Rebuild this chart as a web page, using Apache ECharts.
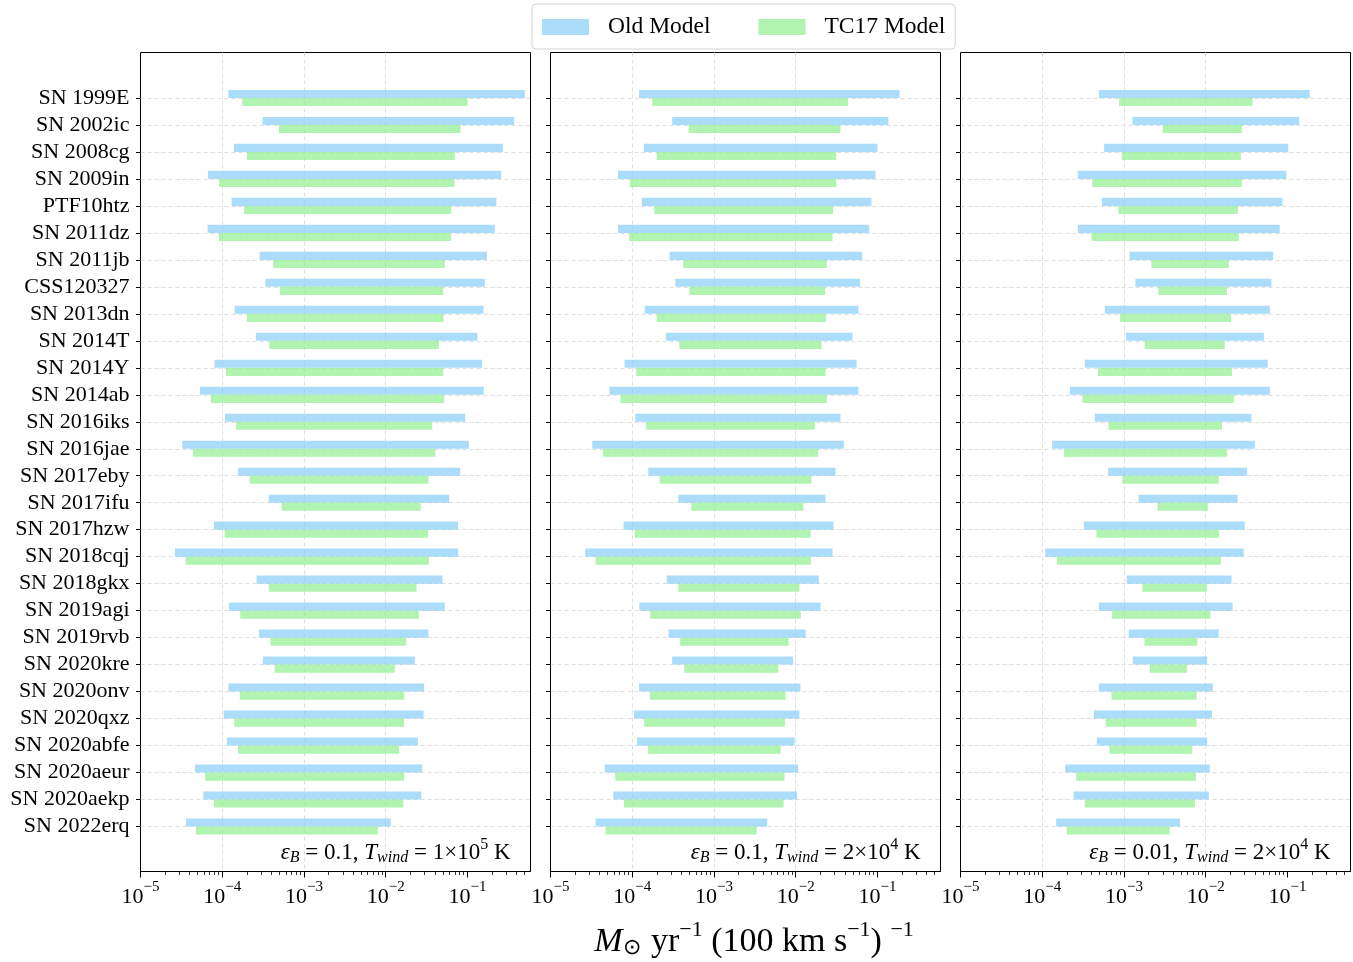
<!DOCTYPE html>
<html>
<head>
<meta charset="utf-8">
<script src="https://cdn.jsdelivr.net/npm/echarts@6/dist/echarts.min.js"></script>
<style>
html, body { margin: 0; padding: 0; background: #fff; }
#chart { width: 1353px; height: 962px; }
</style>
</head>
<body>
<div id="chart"></div>
<script>
// supernova names, top to bottom
var names = ['SN 1999E', 'SN 2002ic', 'SN 2008cg', 'SN 2009in', 'PTF10htz', 'SN 2011dz', 'SN 2011jb',
    'CSS120327', 'SN 2013dn', 'SN 2014T', 'SN 2014Y', 'SN 2014ab', 'SN 2016iks', 'SN 2016jae',
    'SN 2017eby', 'SN 2017ifu', 'SN 2017hzw', 'SN 2018cqj', 'SN 2018gkx', 'SN 2019agi', 'SN 2019rvb',
    'SN 2020kre', 'SN 2020onv', 'SN 2020qxz', 'SN 2020abfe', 'SN 2020aeur', 'SN 2020aekp', 'SN 2022erq'];

// panel 1 : eps_B = 0.1, T_wind = 1e5 K
var oldLo1 = [1.19e-4, 3.11e-4, 1.39e-4, 6.68e-5, 1.30e-4, 6.62e-5, 2.86e-4, 3.36e-4, 1.42e-4, 2.58e-4, 8.05e-5, 5.33e-5, 1.08e-4, 3.24e-5,
    1.56e-4, 3.72e-4, 7.91e-5, 2.64e-5, 2.63e-4, 1.21e-4, 2.81e-4, 3.14e-4, 1.19e-4, 1.04e-4, 1.14e-4, 4.63e-5, 5.86e-5, 3.60e-5];
var oldHi1 = [0.504, 0.372, 0.271, 0.258, 0.226, 0.216, 0.173, 0.163, 0.157, 0.132, 0.151, 0.158, 0.0938, 0.104,
    0.0815, 0.0597, 0.0769, 0.0769, 0.0495, 0.0528, 0.0333, 0.0227, 0.0295, 0.0290, 0.0247, 0.0279, 0.0272, 0.0115];
var tcLo1 = [1.76e-4, 4.93e-4, 2.00e-4, 9.18e-5, 1.86e-4, 9.10e-5, 4.21e-4, 5.07e-4, 2.00e-4, 3.76e-4, 1.11e-4, 7.26e-5, 1.48e-4, 4.38e-5,
    2.16e-4, 5.32e-4, 1.07e-4, 3.56e-5, 3.72e-4, 1.66e-4, 3.90e-4, 4.37e-4, 1.64e-4, 1.40e-4, 1.56e-4, 6.19e-5, 7.91e-5, 4.76e-5];
var tcHi1 = [0.100, 0.0822, 0.0700, 0.0693, 0.0632, 0.0627, 0.0528, 0.0505, 0.0509, 0.0447, 0.0505, 0.0519, 0.0370, 0.0406,
    0.0333, 0.0267, 0.0330, 0.0337, 0.0238, 0.0254, 0.0178, 0.0129, 0.0168, 0.0168, 0.0146, 0.0168, 0.0164, 8.02e-3];

// panel 2 : eps_B = 0.1, T_wind = 2e4 K
var oldLo2 = [1.21e-4, 3.08e-4, 1.39e-4, 6.68e-5, 1.31e-4, 6.68e-5, 2.86e-4, 3.36e-4, 1.42e-4, 2.58e-4, 8.05e-5, 5.28e-5, 1.09e-4, 3.24e-5,
    1.57e-4, 3.66e-4, 7.83e-5, 2.66e-5, 2.65e-4, 1.22e-4, 2.78e-4, 3.08e-4, 1.21e-4, 1.05e-4, 1.14e-4, 4.63e-5, 5.86e-5, 3.56e-5];
var oldHi2 = [0.186, 0.136, 0.100, 0.0946, 0.0845, 0.0791, 0.0650, 0.0614, 0.0586, 0.0495, 0.0555, 0.0586, 0.0353, 0.0388,
    0.0307, 0.0231, 0.0290, 0.0282, 0.0192, 0.0201, 0.0132, 9.31e-3, 0.0114, 0.0111, 9.66e-3, 0.0107, 0.0104, 4.48e-3];
var tcLo2 = [1.76e-4, 4.89e-4, 1.99e-4, 9.35e-5, 1.86e-4, 9.18e-5, 4.21e-4, 5.02e-4, 1.99e-4, 3.76e-4, 1.12e-4, 7.19e-5, 1.48e-4, 4.38e-5,
    2.16e-4, 5.27e-4, 1.07e-4, 3.56e-5, 3.66e-4, 1.66e-4, 3.86e-4, 4.33e-4, 1.64e-4, 1.40e-4, 1.56e-4, 6.19e-5, 7.91e-5, 4.72e-5];
var tcHi2 = [0.0435, 0.0353, 0.0313, 0.0313, 0.0287, 0.0282, 0.0240, 0.0229, 0.0234, 0.0207, 0.0231, 0.0240, 0.0171, 0.0188,
    0.0156, 0.0124, 0.0152, 0.0153, 0.0111, 0.0115, 8.17e-3, 6.11e-3, 7.50e-3, 7.36e-3, 6.52e-3, 7.29e-3, 7.10e-3, 3.32e-3];

// panel 3 : eps_B = 0.01, T_wind = 2e4 K
var oldLo3 = [4.92e-4, 1.27e-3, 5.71e-4, 2.72e-4, 5.36e-4, 2.72e-4, 1.17e-3, 1.38e-3, 5.82e-4, 1.06e-3, 3.32e-4, 2.18e-4, 4.40e-4, 1.32e-4,
    6.40e-4, 1.51e-3, 3.23e-4, 1.09e-4, 1.08e-3, 4.92e-4, 1.14e-3, 1.28e-3, 4.92e-4, 4.28e-4, 4.65e-4, 1.91e-4, 2.42e-4, 1.48e-4];
var oldHi3 = [0.187, 0.139, 0.102, 0.0970, 0.0869, 0.0805, 0.0668, 0.0637, 0.0608, 0.0514, 0.0574, 0.0608, 0.0363, 0.0399,
    0.0321, 0.0245, 0.0301, 0.0292, 0.0207, 0.0213, 0.0144, 0.0104, 0.0122, 0.0119, 0.0104, 0.0112, 0.0109, 4.84e-3];
var tcLo3 = [8.71e-4, 2.97e-3, 9.40e-4, 4.08e-4, 8.55e-4, 4.00e-4, 2.16e-3, 2.63e-3, 8.95e-4, 1.79e-3, 4.79e-4, 3.10e-4, 6.46e-4, 1.84e-4,
    9.57e-4, 2.58e-3, 4.60e-4, 1.51e-4, 1.68e-3, 7.16e-4, 1.78e-3, 2.07e-3, 7.03e-4, 5.98e-4, 6.64e-4, 2.60e-4, 3.32e-4, 2.00e-4];
var tcHi3 = [0.0373, 0.0277, 0.0269, 0.0277, 0.0247, 0.0254, 0.0192, 0.0182, 0.0203, 0.0171, 0.0209, 0.0221, 0.0158, 0.0182,
    0.0144, 0.0106, 0.0145, 0.0153, 0.0103, 0.0114, 7.89e-3, 5.89e-3, 7.73e-3, 7.73e-3, 6.85e-3, 7.59e-3, 7.38e-3, 3.62e-3];

var majorTicks = [1e-5, 1e-4, 1e-3, 1e-2, 1e-1];
var minorTicks = [];
for (var k = 0; k < 5; k++) {
    for (var m = 2; m <= 9; m++) {
        var v = m * majorTicks[k];
        if (v < 0.59) minorTicks.push(v);
    }
}

var panelText = [
    '{e|ε}{sub|B}{n| = 0.1, }{e|T}{sub|wind}{n| = 1×10}{sup|5}{n| K}',
    '{e|ε}{sub|B}{n| = 0.1, }{e|T}{sub|wind}{n| = 2×10}{sup|4}{n| K}',
    '{e|ε}{sub|B}{n| = 0.01, }{e|T}{sub|wind}{n| = 2×10}{sup|4}{n| K}'
];

var panels = [
    { oldLo: oldLo1, oldHi: oldHi1, tcLo: tcLo1, tcHi: tcHi1 },
    { oldLo: oldLo2, oldHi: oldHi2, tcLo: tcLo2, tcHi: tcHi2 },
    { oldLo: oldLo3, oldHi: oldHi3, tcLo: tcLo3, tcHi: tcHi3 }
];

var FONT = '"Liberation Serif", "Times New Roman", serif';
var xMin = 1e-5, xMax = 0.59;
var lefts = [140.5, 550.5, 960.5];
var W = 390;

var gridStyle = { color: '#dedede', width: 1, type: [4, 3] };

function powLabel(val) {
    var e = Math.round(Math.log(val) / Math.LN10);
    return '{b|10}{s|−' + (-e) + '}';
}

var labelRich = {
    b: { fontFamily: FONT, fontSize: 22, color: '#000' },
    s: { fontFamily: FONT, fontSize: 15, color: '#000', padding: [0, 0, 20, 0] }
};
var textRich = {
    n: { fontFamily: FONT, fontSize: 23, color: '#000' },
    e: { fontFamily: FONT, fontSize: 23, fontStyle: 'italic', color: '#000' },
    sub: { fontFamily: FONT, fontSize: 16, fontStyle: 'italic', color: '#000', padding: [10, 0, 0, 0] },
    sup: { fontFamily: FONT, fontSize: 16, color: '#000', padding: [0, 0, 16, 0] }
};

function barRenderer(offset) {
    return function (params, api) {
        var cat = api.value(0);
        var p0 = api.coord([api.value(1), cat]);
        var p1 = api.coord([api.value(2), cat]);
        var band = api.size([0, 1])[1];
        var h = band * 0.3;
        return {
            type: 'rect',
            shape: { x: p0[0], y: p0[1] + offset * band - h / 2, width: p1[0] - p0[0], height: h },
            style: api.style()
        };
    };
}

function rows(lo, hi) {
    return names.map(function (n, i) { return [i, lo[i], hi[i]]; });
}

var grids = [], xAxes = [], yAxes = [], series = [], graphics = [];

// frame grids (full box), then data grids (category rows)
for (var p = 0; p < 3; p++) {
    grids.push({ left: lefts[p], top: 52.5, width: W, height: 819, show: true,
        borderColor: '#000', borderWidth: 1, backgroundColor: 'transparent', outerBoundsMode: 'none' });
}
for (var p = 0; p < 3; p++) {
    grids.push({ left: lefts[p], top: 98, width: W, height: 728.5, outerBoundsMode: 'none' });
}

// major x axes 0..2
for (var p = 0; p < 3; p++) {
    xAxes.push({
        type: 'log', logBase: 10, gridIndex: p, position: 'bottom', min: xMin, max: xMax,
        axisLine: { show: true, lineStyle: { color: '#000', width: 1 } },
        axisTick: { show: true, length: 6, customValues: majorTicks, lineStyle: { color: '#000', width: 1 } },
        axisLabel: { show: true, customValues: majorTicks, margin: 8, formatter: powLabel, rich: labelRich },
        splitLine: { show: true, showMinLine: false, showMaxLine: false, lineStyle: gridStyle },
        minorTick: { show: false }
    });
}
// minor x axes 3..5
for (var p = 0; p < 3; p++) {
    xAxes.push({
        type: 'log', logBase: 10, gridIndex: p, position: 'bottom', min: xMin, max: xMax,
        axisLine: { show: false },
        axisTick: { show: true, length: 3.5, customValues: minorTicks, lineStyle: { color: '#000', width: 0.8 } },
        axisLabel: { show: false },
        splitLine: { show: false }
    });
}
// data x axes 6..8
for (var p = 0; p < 3; p++) {
    xAxes.push({ type: 'log', logBase: 10, gridIndex: 3 + p, min: xMin, max: xMax, show: false });
}

for (var p = 0; p < 3; p++) {
    yAxes.push({ type: 'value', gridIndex: p, show: false });
}
for (var p = 0; p < 3; p++) {
    yAxes.push({
        type: 'category', gridIndex: 3 + p, data: names, inverse: true, boundaryGap: false,
        axisLine: { show: false },
        axisTick: { show: true, length: 4.5, interval: 0, lineStyle: { color: '#000', width: 1 } },
        axisLabel: { show: p === 0, interval: 0, margin: 11, fontFamily: FONT, fontSize: 22, color: '#000' },
        splitLine: { show: true, interval: 0, lineStyle: gridStyle }
    });
}

for (var p = 0; p < 3; p++) {
    var d = panels[p];
    series.push({
        name: 'Old Model', type: 'custom', xAxisIndex: 6 + p, yAxisIndex: 3 + p,
        renderItem: barRenderer(-0.15), encode: { x: [1, 2], y: 0 },
        itemStyle: { color: 'rgba(135,206,250,0.7)' }, z: 3,
        data: rows(d.oldLo, d.oldHi)
    });
    series.push({
        name: 'TC17 Model', type: 'custom', xAxisIndex: 6 + p, yAxisIndex: 3 + p,
        renderItem: barRenderer(0.15), encode: { x: [1, 2], y: 0 },
        itemStyle: { color: 'rgba(144,238,144,0.7)' }, z: 4,
        data: rows(d.tcLo, d.tcHi)
    });
    graphics.push({
        type: 'text', x: lefts[p] + W - 20, y: 853, z: 10,
        style: { text: panelText[p], rich: textRich, align: 'right', verticalAlign: 'middle',
            textAlign: 'right', textVerticalAlign: 'middle', fill: '#000', font: '23px ' + FONT }
    });
}

graphics.push({
    type: 'text', x: 754, y: 942, z: 10,
    style: {
        text: '{m|M}{o|⊙}{n| yr}{s|−1}{n| (100 km s}{s|−1}{n|) }{s|−1}',
        rich: {
            m: { fontFamily: FONT, fontSize: 34, fontStyle: 'italic', color: '#000' },
            o: { fontFamily: FONT, fontSize: 22, color: '#000', padding: [12, 1, 0, 1] },
            n: { fontFamily: FONT, fontSize: 34, color: '#000' },
            s: { fontFamily: FONT, fontSize: 22, color: '#000', padding: [0, 0, 24, 0] }
        },
        align: 'center', verticalAlign: 'middle', textAlign: 'center', textVerticalAlign: 'middle',
        fill: '#000', font: '34px ' + FONT
    }
});

var option = {
    backgroundColor: '#fff',
    animation: false,
    legend: {
        left: 532, top: 4,
        padding: [11, 10, 10, 10],
        itemWidth: 47, itemHeight: 16, itemGap: 48,
        backgroundColor: '#fff', borderColor: '#d4d4d4', borderWidth: 1, borderRadius: 4,
        textStyle: { fontFamily: FONT, fontSize: 23.5, color: '#000', padding: [0, 0, 0, 14] },
        data: [{ name: 'Old Model', icon: 'rect' }, { name: 'TC17 Model', icon: 'rect' }]
    },
    grid: grids,
    xAxis: xAxes,
    yAxis: yAxes,
    series: series,
    graphic: graphics
};

var myChart = echarts.init(document.getElementById('chart'), null, { renderer: 'canvas' });
myChart.setOption(option);
</script>
</body>
</html>
